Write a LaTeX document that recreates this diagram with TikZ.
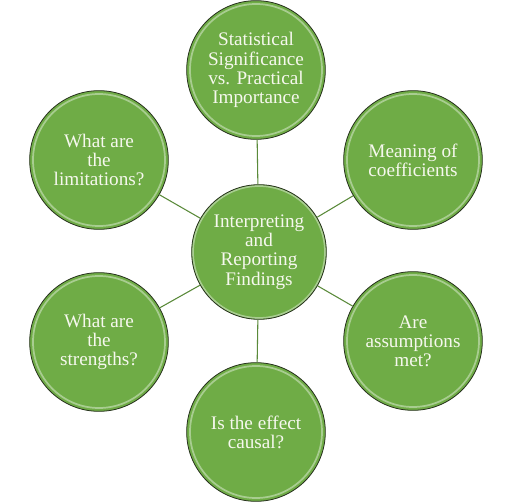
\documentclass[tikz,border=0pt]{standalone}
\usepackage{fontspec}
\setmainfont{Liberation Serif}
\usetikzlibrary{positioning}
\definecolor{cLeaf}{HTML}{6FAC46}
\definecolor{cRim}{HTML}{27321D}
\definecolor{cLink}{HTML}{5A8A3A}
\definecolor{cText}{HTML}{F6F8EE}

\begin{document}
\begin{tikzpicture}[x=0.75pt,y=-0.75pt,
      bubble/.style={circle,fill=cLeaf,draw=cRim,line width=0.6pt,minimum size=104pt,inner sep=0pt,
                     align=center,text=cText,font=\fontsize{14.4}{14.4}\selectfont,
                     path picture={\draw[white,opacity=0.4,line width=1.3pt]
                       (path picture bounding box.center) circle (49.5pt);}},
      link/.style={cLink,line width=0.8pt}]
    \useasboundingbox (0,0) rectangle (512,503);
    % hub
    \node[bubble,minimum size=101pt] (hub) at (259,252) {Interpreting\\ and\\ Reporting\\ Findings};
    % ring of questions
    \node[bubble] (sig)  at (256,70)  {Statistical\\ Significance\\ vs. Practical\\ Importance};
    \node[bubble] (coef) at (413,160) {Meaning of\\ coefficients};
    \node[bubble] (assm) at (413,341) {Are\\ assumptions\\ met?};
    \node[bubble] (caus) at (256,432) {Is the effect\\ causal?};
    \node[bubble] (str)  at (99,342)  {What are\\ the\\ strengths?};
    \node[bubble] (lim)  at (99,160)  {What are\\ the\\ limitations?};
    % spokes
    \draw[link] (hub) -- (sig);  \draw[link] (hub) -- (coef); \draw[link] (hub) -- (assm);
    \draw[link] (hub) -- (caus); \draw[link] (hub) -- (str);  \draw[link] (hub) -- (lim);
  \end{tikzpicture}
\end{document}
